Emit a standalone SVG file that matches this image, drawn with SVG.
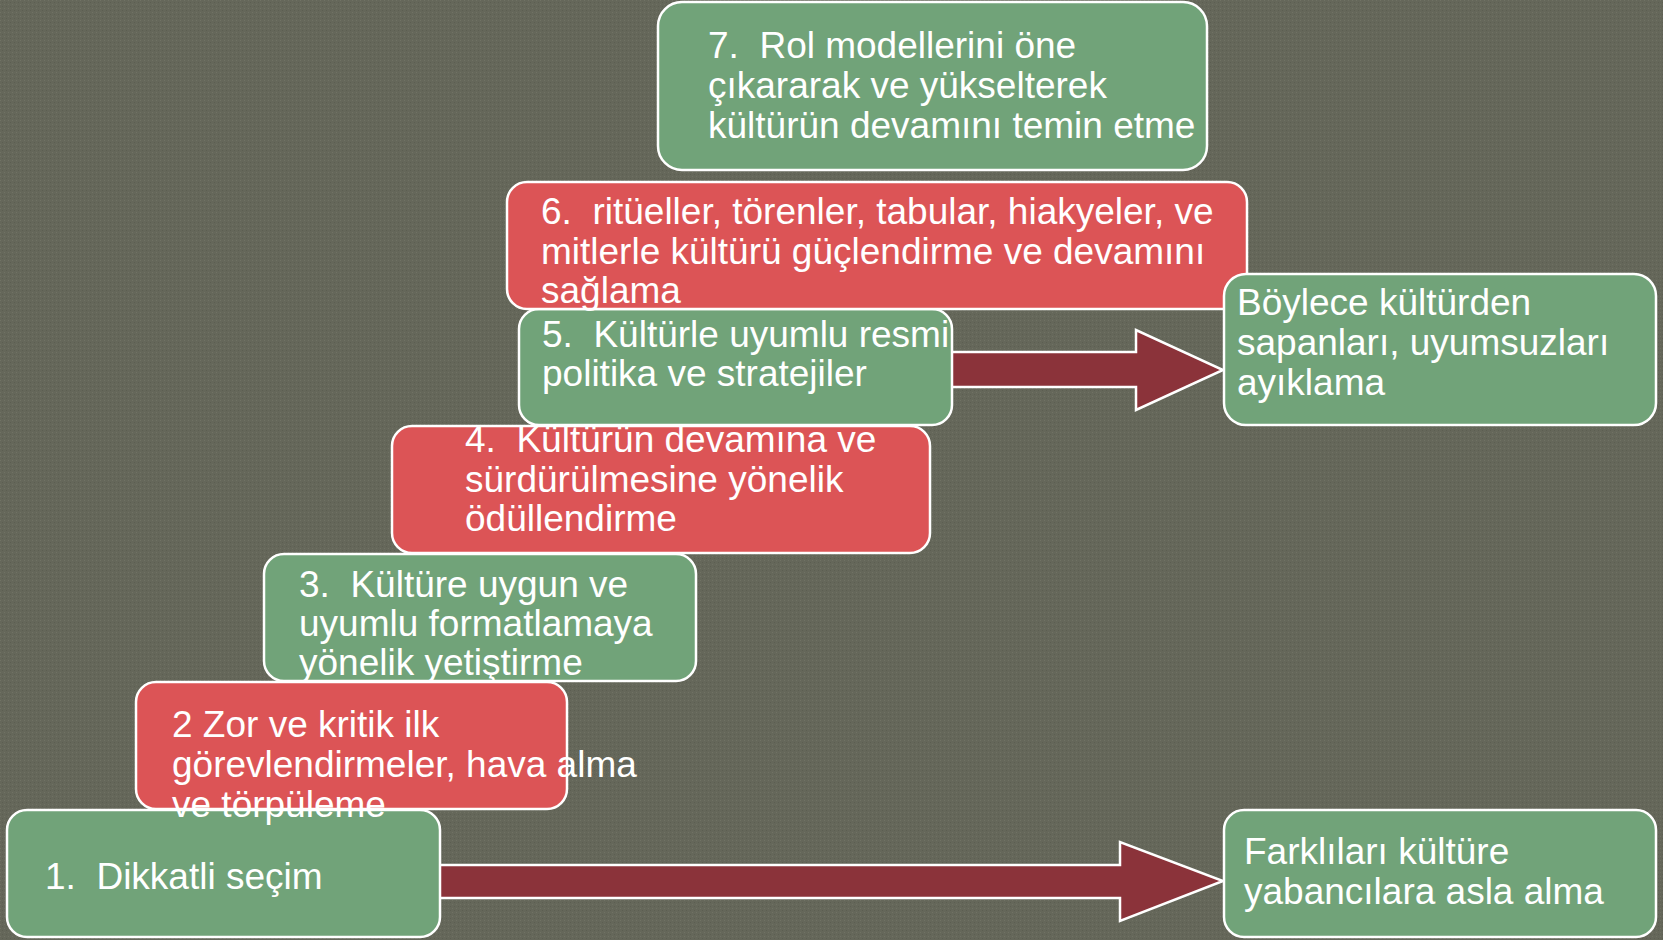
<svg xmlns="http://www.w3.org/2000/svg" width="1663" height="940" viewBox="0 0 1663 940">
<defs>
<pattern id="tex" width="4" height="4" patternUnits="userSpaceOnUse">
<rect width="4" height="4" fill="#65675A"/>
<rect x="0" y="0" width="1" height="1" fill="#707264"/>
<rect x="2" y="2" width="1" height="1" fill="#5C5E51"/>
</pattern>
<style>
.g{fill:#71A379;stroke:#FFFFFF;stroke-width:2.5}
.r{fill:#DC5456;stroke:#FFFFFF;stroke-width:2.5}
.ar{fill:#8B333A;stroke:#FFFFFF;stroke-width:2.5;stroke-linejoin:miter}
.t{font-family:"Liberation Sans",Arial,sans-serif;font-size:37px;fill:#FFFFFF}
</style>
</defs>
<rect width="1663" height="940" fill="url(#tex)"/>
<g id="connectors">
<polygon class="ar" points="930,352 1136,352 1136,330 1223,370 1136,410 1136,387 930,387"/>
<polygon class="ar" points="420,865 1120,865 1120,842 1223,881 1120,921 1120,898 420,898"/>
</g>
<g id="node1">
<rect class="g" x="7" y="810" width="433" height="127" rx="20"/>
<text class="t" xml:space="preserve" x="45" y="889">1.  Dikkatli seçim</text>
</g>
<g id="node2">
<rect class="r" x="136" y="682" width="431" height="127" rx="20"/>
<text class="t" xml:space="preserve"><tspan x="172" y="737">2 Zor ve kritik ilk</tspan><tspan x="172" y="777">görevlendirmeler, hava alma</tspan><tspan x="172" y="817">ve törpüleme</tspan></text>
</g>
<g id="node3">
<rect class="g" x="264" y="554" width="432" height="127" rx="20"/>
<text class="t" xml:space="preserve"><tspan x="299" y="597">3.  Kültüre uygun ve</tspan><tspan x="299" y="636">uyumlu formatlamaya</tspan><tspan x="299" y="675">yönelik yetiştirme</tspan></text>
</g>
<g id="node4">
<rect class="r" x="392" y="426" width="538" height="127" rx="20"/>
<text class="t" xml:space="preserve"><tspan x="465" y="452">4.  Kültürün devamına ve</tspan><tspan x="465" y="492">sürdürülmesine yönelik</tspan><tspan x="465" y="531">ödüllendirme</tspan></text>
</g>
<g id="node5">
<rect class="g" x="519" y="309" width="433" height="116" rx="20"/>
<text class="t" xml:space="preserve"><tspan x="542" y="347">5.  Kültürle uyumlu resmi</tspan><tspan x="542" y="386">politika ve stratejiler</tspan></text>
</g>
<g id="node6">
<rect class="r" x="507" y="182" width="740" height="127" rx="20"/>
<text class="t" xml:space="preserve"><tspan x="541" y="224">6.  ritüeller, törenler, tabular, hiakyeler, ve</tspan><tspan x="541" y="264">mitlerle kültürü güçlendirme ve devamını</tspan><tspan x="541" y="303">sağlama</tspan></text>
</g>
<g id="node7">
<rect class="g" x="658" y="2" width="549" height="168" rx="24"/>
<text class="t" xml:space="preserve"><tspan x="708" y="58">7.  Rol modellerini öne</tspan><tspan x="708" y="98">çıkararak ve yükselterek</tspan><tspan x="708" y="138">kültürün devamını temin etme</tspan></text>
</g>
<g id="result-top">
<rect class="g" x="1224" y="274" width="432" height="151" rx="22"/>
<text class="t" xml:space="preserve"><tspan x="1237" y="315">Böylece kültürden</tspan><tspan x="1237" y="355">sapanları, uyumsuzları</tspan><tspan x="1237" y="395">ayıklama</tspan></text>
</g>
<g id="result-bottom">
<rect class="g" x="1224" y="810" width="432" height="127" rx="20"/>
<text class="t" xml:space="preserve"><tspan x="1244" y="864">Farklıları kültüre</tspan><tspan x="1244" y="904">yabancılara asla alma</tspan></text>
</g>
</svg>
